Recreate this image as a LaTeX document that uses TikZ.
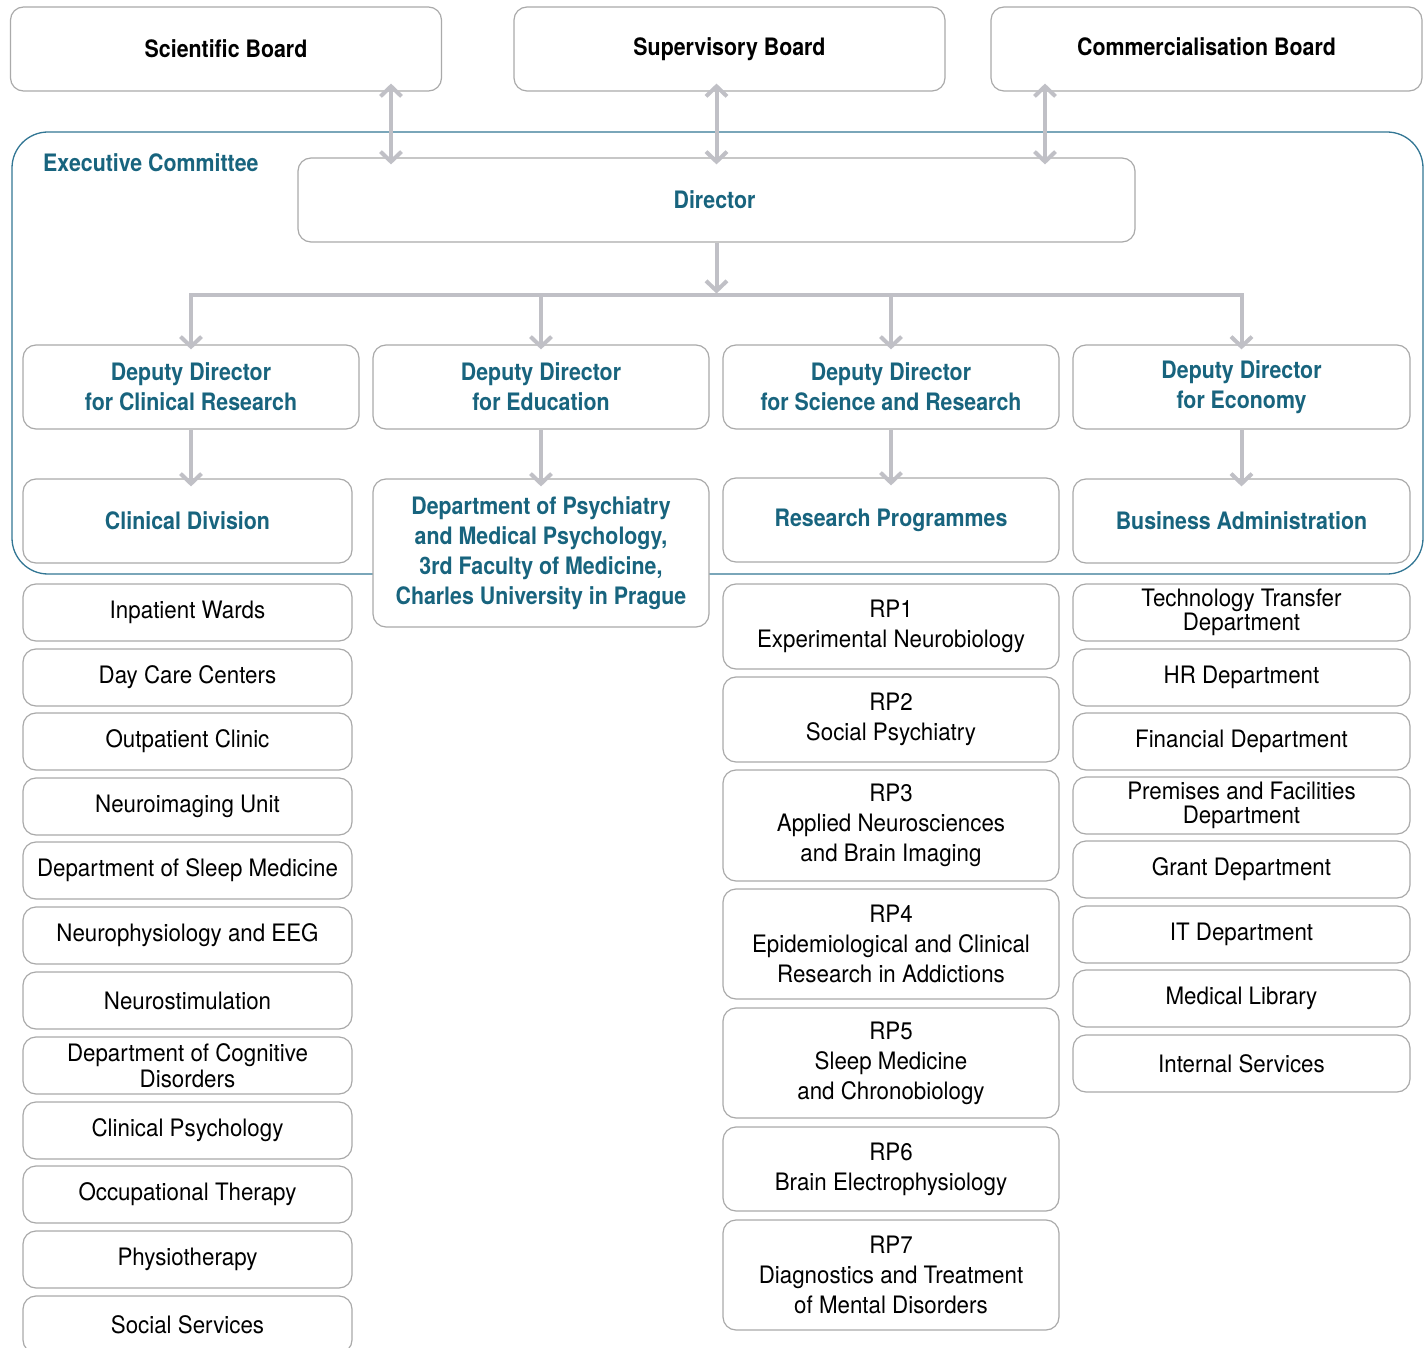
\documentclass[tikz,border=0pt]{standalone}
\usepackage{fontspec}
\setmainfont{TeX Gyre Heros}[FakeStretch=0.93,BoldFeatures={FakeStretch=0.89}]
\usetikzlibrary{arrows.meta,calc}
\definecolor{ncteal}{RGB}{24,100,126}
\definecolor{frameteal}{RGB}{50,118,148}
\definecolor{boxgray}{RGB}{170,170,170}
\definecolor{arrgray}{RGB}{192,192,198}
\begin{document}
\begin{tikzpicture}[x=1pt,y=-1pt,
  box/.style={draw=boxgray,line width=1.2pt,rounded corners=13pt,fill=white,inner sep=0pt,align=center,text=black,font=\fontsize{24}{30}\selectfont},
  ebox/.style={box,text=ncteal,font=\fontsize{24}{30}\selectfont\bfseries},
  bbox/.style={box,text=black,font=\fontsize{24}{30}\selectfont\bfseries,minimum width=431pt,minimum height=84pt},
  lbox/.style={box,minimum width=329pt,minimum height=57pt},
  rbox/.style={box,minimum width=337pt,minimum height=57pt},
  pbox/.style={box,minimum width=336pt},
  conn/.style={draw=arrgray,line width=4pt},
  tip/.style={conn,-{Straight Barb[length=10pt,width=21pt]}},
  dtip/.style={conn,{Straight Barb[length=10pt,width=21pt]}-{Straight Barb[length=10pt,width=21pt]}},
]
\useasboundingbox (0,0) rectangle (1428,1348);
\clip (0,0) rectangle (1428,1348);

% boards
\node[bbox] (sb) at (226,49) {Scientific Board};
\node[bbox] (spb) at (729.5,49) {\raisebox{2.5pt}{Supervisory Board}};
\node[bbox] (cb) at (1206.5,49) {\raisebox{4.5pt}{Commercialisation Board}};

% executive committee frame
\draw[frameteal,line width=1.3pt,rounded corners=36pt] (12,132) rectangle (1423,574);
\node[anchor=west,inner sep=0pt,text=ncteal,font=\fontsize{24}{30}\selectfont\bfseries] (ecl) at (43,163) {Executive Committee};

\node[ebox,minimum width=837pt,minimum height=84pt] (dir) at (716.5,200) {\hspace*{-4pt}\raisebox{1.5pt}{Director}};

\node[ebox,minimum width=336pt,minimum height=84pt] (d1) at (191,387) {Deputy Director\\for Clinical Research};
\node[ebox,minimum width=336pt,minimum height=84pt] (d2) at (541,387) {Deputy Director\\for Education};
\node[ebox,minimum width=336pt,minimum height=84pt] (d3) at (891,387) {Deputy Director\\for Science and Research};
\node[ebox,minimum width=337pt,minimum height=84pt] (d4) at (1241.5,387) {Deputy Director\\for Economy};

\node[ebox,minimum width=329pt,minimum height=84pt] (cd) at (187.5,521) {Clinical Division};
\node[ebox,minimum width=336pt,minimum height=148pt] (dp) at (541,553) {Department of Psychiatry\\and Medical Psychology,\\3rd Faculty of Medicine,\\Charles University in Prague};
\node[ebox,minimum width=336pt,minimum height=84pt] (rp) at (891,520) {Research Programmes};
\node[ebox,minimum width=337pt,minimum height=84pt] (ba) at (1241.5,521) {Business Administration};

% arrows between boards and director
\coordinate (a1) at ([xshift=-325.5pt]dir.north);
\coordinate (a2) at (dir.north);
\coordinate (a3) at ([xshift=328.5pt]dir.north);
\draw[dtip] ($(a1 |- sb.south)+(0,-8)$) -- ($(a1)+(0,7)$);
\draw[dtip] ($(a2 |- spb.south)+(0,-8)$) -- ($(a2)+(0,7)$);
\draw[dtip] ($(a3 |- cb.south)+(0,-8)$) -- ($(a3)+(0,7)$);

% director to deputies
\coordinate (bus) at ($(dir.south)+(0,52)$);
\draw[tip] (dir.south) -- ($(dir.south |- bus)+(0,-1)$);
\draw[conn,line cap=rect] (d1.north |- bus) -- (d4.north |- bus);
\draw[tip] (d1.north |- bus) -- ($(d1.north)+(0,5)$);
\draw[tip] (d2.north |- bus) -- ($(d2.north)+(0,5)$);
\draw[tip] (d3.north |- bus) -- ($(d3.north)+(0,5)$);
\draw[tip] (d4.north |- bus) -- ($(d4.north)+(0,5)$);

% deputies to units
\draw[tip] (d1.south) -- ($(d1.south |- cd.north)+(0,8)$);
\draw[tip] (d2.south) -- ($(d2.south |- dp.north)+(0,8)$);
\draw[tip] (d3.south) -- ($(d3.south |- rp.north)+(0,8)$);
\draw[tip] (d4.south) -- ($(d4.south |- ba.north)+(0,8)$);

% left column
\node[lbox] (l1) at (187.5,612.5) {Inpatient Wards};
\node[lbox] (l2) at (187.5,677.5) {Day Care Centers};
\node[lbox] (l3) at (187.5,741.5) {Outpatient Clinic};
\node[lbox] (l4) at (187.5,806.5) {Neuroimaging Unit};
\node[lbox] (l5) at (187.5,870.5) {Department of Sleep Medicine};
\node[lbox] (l6) at (187.5,935.5) {Neurophysiology and EEG};
\node[lbox] (l7) at (187.5,1000.5) {Neurostimulation};
\node[lbox,font=\fontsize{24}{26}\selectfont] (l8) at (187.5,1065.5) {Department of Cognitive\\Disorders};
\node[lbox] (l9) at (187.5,1130.5) {Clinical Psychology};
\node[lbox] (l10) at (187.5,1194.5) {Occupational Therapy};
\node[lbox] (l11) at (187.5,1259.5) {Physiotherapy};
\node[lbox] (l12) at (187.5,1324.5) {Social Services};

% research programmes
\node[pbox,minimum height=85pt] (p1) at (891,626.5) {RP1\\Experimental Neurobiology};
\node[pbox,minimum height=85pt] (p2) at (891,719.5) {RP2\\Social Psychiatry};
\node[pbox,minimum height=111pt] (p3) at (891,825.5) {RP3\\Applied Neurosciences\\and Brain Imaging};
\node[pbox,minimum height=110pt] (p4) at (891,944) {RP4\\Epidemiological and Clinical\\Research in Addictions};
\node[pbox,minimum height=110pt] (p5) at (891,1063) {RP5\\Sleep Medicine\\and Chronobiology};
\node[pbox,minimum height=84pt] (p6) at (891,1169) {RP6\\Brain Electrophysiology};
\node[pbox,minimum height=110pt] (p7) at (891,1275) {RP7\\Diagnostics and Treatment\\of Mental Disorders};

% right column
\node[rbox,font=\fontsize{24}{24}\selectfont] (r1) at (1241.5,612.5) {Technology Transfer\\Department};
\node[rbox] (r2) at (1241.5,677.5) {HR Department};
\node[rbox] (r3) at (1241.5,741.5) {Financial Department};
\node[rbox,font=\fontsize{24}{24}\selectfont] (r4) at (1241.5,805.5) {Premises and Facilities\\Department};
\node[rbox] (r5) at (1241.5,869.5) {Grant Department};
\node[rbox] (r6) at (1241.5,934.5) {IT Department};
\node[rbox] (r7) at (1241.5,998.5) {Medical Library};
\node[rbox] (r8) at (1241.5,1063.5) {Internal Services};
\end{tikzpicture}
\end{document}
